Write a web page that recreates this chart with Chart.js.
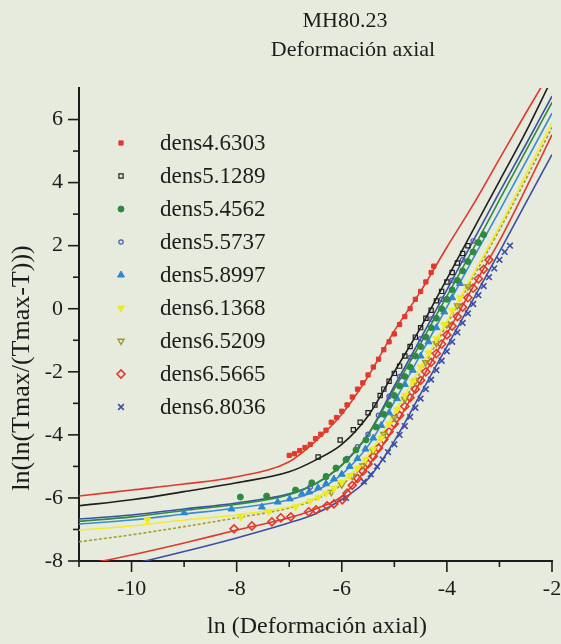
<!DOCTYPE html>
<html>
<head>
<meta charset="utf-8">
<script src="https://cdn.jsdelivr.net/npm/chart.js@4/dist/chart.umd.min.js"></script>
<style>
  html, body { margin: 0; padding: 0; background: #e7ebdd; }
  canvas { display: block; }
</style>
</head>
<body>
<canvas id="chart" width="561" height="644"></canvas>
<script>
// series names (legend order)
const seriesNames = ['dens4.6303', 'dens5.1289', 'dens5.4562', 'dens5.5737', 'dens5.8997', 'dens6.1368', 'dens6.5209', 'dens6.5665', 'dens6.8036'];
const xTickLabels = [-10, -8, -6, -4, -2];
const yTickLabels = [6, 4, 2, 0, -2, -4, -6, -8];

// fitted curves, read at these x positions
const fitX = [-11, -10, -9, -8, -7, -6.5, -6, -5.5, -5, -4.5, -4, -3.5, -3, -2.5, -2];
const fit46303 = [-5.94, -5.75, -5.56, -5.33, -4.85, -4.2, -3.35, -2.15, -0.7, 0.55, 1.95, 3.3, 4.75, 6.2, 7.6];
const fit51289 = [-6.25, -6.06, -5.8, -5.52, -5.17, -4.8, -4.3, -3.4, -2.0, -0.6, 0.95, 2.5, 4.05, 5.6, 7.3];
const fit54562 = [-6.74, -6.6, -6.4, -6.2, -5.9, -5.55, -4.97, -4.0, -2.55, -1.1, 0.4, 1.9, 3.45, 5.0, 6.54];
const fit55737 = [-6.67, -6.54, -6.35, -6.16, -5.87, -5.55, -4.95, -3.98, -2.45, -0.95, 0.6, 2.15, 3.7, 5.2, 6.74];
const fit58997 = [-6.83, -6.7, -6.51, -6.32, -6.06, -5.78, -5.25, -4.35, -2.95, -1.45, 0.05, 1.6, 3.1, 4.65, 6.2];
const fit61368 = [-7.02, -6.89, -6.7, -6.54, -6.28, -6.0, -5.5, -4.65, -3.3, -1.85, -0.4, 1.1, 2.6, 4.25, 5.9];
const fit65209 = [-7.39, -7.17, -6.91, -6.63, -6.32, -6.05, -5.58, -4.8, -3.45, -2.0, -0.5, 1.0, 2.5, 4.1, 5.75];
const fit65665 = [-8.15, -7.81, -7.43, -7.02, -6.63, -6.35, -5.95, -5.0, -3.75, -2.3, -0.8, 0.7, 2.15, 3.8, 5.52];
const fit68036 = [-8.45, -8.1, -7.7, -7.27, -6.79, -6.5, -6.05, -5.4, -4.2, -2.7, -1.2, 0.3, 1.8, 3.35, 4.89];

// measured points
const pts46303x = [-7.0, -6.9, -6.8, -6.7, -6.6, -6.5, -6.4, -6.3, -6.2, -6.1, -6.0, -5.9, -5.8, -5.7, -5.6, -5.5, -5.4, -5.3, -5.2, -5.1, -5.0, -4.9, -4.8, -4.7, -4.6, -4.5, -4.4, -4.3, -4.25];
const pts46303y = [-4.65, -4.6, -4.5, -4.4, -4.3, -4.12, -3.98, -3.85, -3.6, -3.45, -3.25, -3.05, -2.8, -2.55, -2.35, -2.1, -1.85, -1.6, -1.3, -1.05, -0.8, -0.5, -0.25, 0.0, 0.3, 0.55, 0.85, 1.15, 1.35];
const pts51289x = [-6.45, -6.03, -5.78, -5.65, -5.5, -5.37, -5.27, -5.2, -5.1, -5.0, -4.9, -4.8, -4.7, -4.6, -4.5, -4.4, -4.3, -4.2, -4.1, -4.0, -3.9, -3.8, -3.7, -3.6];
const pts51289y = [-4.7, -4.16, -3.84, -3.6, -3.3, -3.05, -2.75, -2.55, -2.3, -2.05, -1.82, -1.5, -1.2, -0.9, -0.6, -0.3, -0.05, 0.25, 0.55, 0.85, 1.15, 1.45, 1.75, 2.0];
const pts54562x = [-7.93, -7.43, -6.88, -6.57, -6.3, -6.11, -5.92, -5.73, -5.54, -5.35, -5.2, -5.1, -5.0, -4.9, -4.8, -4.7, -4.6, -4.5, -4.4, -4.3, -4.2, -4.1, -4.0, -3.9, -3.8, -3.7, -3.6, -3.5, -3.4, -3.3];
const pts54562y = [-5.97, -5.94, -5.75, -5.52, -5.33, -5.05, -4.79, -4.48, -4.16, -3.75, -3.35, -3.05, -2.75, -2.45, -2.15, -1.85, -1.5, -1.2, -0.9, -0.6, -0.3, 0.0, 0.3, 0.6, 0.9, 1.2, 1.5, 1.8, 2.1, 2.35];
const pts55737x = [-6.6, -6.3, -6.1, -5.9, -5.7, -5.5, -5.3, -5.1, -4.9, -4.7, -4.5, -4.3, -4.1, -3.9, -3.7, -3.5];
const pts55737y = [-5.65, -5.3, -5.07, -4.75, -4.38, -3.98, -3.38, -2.78, -2.15, -1.55, -0.95, -0.33, 0.3, 0.9, 1.55, 2.15];
const pts58997x = [-9.0, -8.1, -7.52, -7.22, -6.99, -6.76, -6.62, -6.45, -6.3, -6.15, -6.0, -5.85, -5.7, -5.55, -5.4, -5.25, -5.1, -4.95, -4.8, -4.65, -4.5, -4.35, -4.2, -4.05, -3.9, -3.75];
const pts58997y = [-6.47, -6.35, -6.29, -6.13, -6.03, -5.87, -5.81, -5.68, -5.55, -5.4, -5.25, -5.0, -4.75, -4.45, -4.1, -3.7, -3.3, -2.85, -2.4, -1.95, -1.5, -1.05, -0.6, -0.1, 0.35, 0.8];
const pts61368x = [-9.7, -7.92, -7.39, -6.88, -6.6, -6.45, -6.3, -6.15, -6.0, -5.85, -5.7, -5.55, -5.4, -5.25, -5.1, -4.95, -4.8, -4.65, -4.5, -4.35, -4.2, -4.05, -3.9, -3.75];
const pts61368y = [-6.7, -6.6, -6.44, -6.29, -6.1, -5.98, -5.85, -5.7, -5.5, -5.3, -5.05, -4.78, -4.45, -4.1, -3.65, -3.2, -2.75, -2.3, -1.85, -1.4, -0.95, -0.5, -0.05, 0.35];
const pts65209x = [-6.2, -6.0, -5.8, -5.6, -5.4, -5.2, -5.0, -4.8, -4.6, -4.4, -4.2, -4.0, -3.8, -3.6];
const pts65209y = [-5.82, -5.58, -5.3, -4.98, -4.5, -3.98, -3.45, -2.87, -2.3, -1.7, -1.1, -0.5, 0.1, 0.7];
const pts65665x = [-8.05, -7.71, -7.33, -7.16, -6.97, -6.63, -6.49, -6.28, -6.15, -5.99, -5.9, -5.8, -5.7, -5.6, -5.5, -5.4, -5.3, -5.2, -5.1, -5.0, -4.9, -4.8, -4.7, -4.6, -4.5, -4.4, -4.3, -4.2, -4.1, -4.0, -3.9, -3.8, -3.7, -3.6, -3.5, -3.4, -3.3, -3.2];
const pts65665y = [-6.98, -6.89, -6.76, -6.63, -6.6, -6.44, -6.38, -6.25, -6.19, -6.06, -5.85, -5.6, -5.38, -5.15, -4.92, -4.68, -4.42, -4.15, -3.9, -3.65, -3.38, -3.1, -2.82, -2.55, -2.27, -2.0, -1.7, -1.42, -1.12, -0.83, -0.55, -0.25, 0.05, 0.35, 0.65, 0.95, 1.25, 1.55];
const pts68036x = [-5.92, -5.58, -5.45, -5.33, -5.22, -5.12, -5.0, -4.9, -4.8, -4.7, -4.6, -4.5, -4.4, -4.3, -4.2, -4.1, -4.0, -3.9, -3.8, -3.7, -3.6, -3.5, -3.4, -3.3, -3.2, -3.1, -3.0, -2.9, -2.8];
const pts68036y = [-6.0, -5.48, -5.25, -5.0, -4.78, -4.55, -4.3, -4.0, -3.72, -3.43, -3.14, -2.85, -2.55, -2.25, -1.95, -1.65, -1.35, -1.05, -0.75, -0.45, -0.15, 0.15, 0.43, 0.72, 1.0, 1.28, 1.55, 1.8, 2.0];

const SERIF = '"Liberation Serif", "Times New Roman", serif';
const INK = '#1c1c1c';

const fits = [fit46303, fit51289, fit54562, fit55737, fit58997, fit61368, fit65209, fit65665, fit68036];
const ptsX = [pts46303x, pts51289x, pts54562x, pts55737x, pts58997x, pts61368x, pts65209x, pts65665x, pts68036x];
const ptsY = [pts46303y, pts51289y, pts54562y, pts55737y, pts58997y, pts61368y, pts65209y, pts65665y, pts68036y];

const lineColors = ['#e0392c', '#1e1e1e', '#2e8b3e', '#3b4fa6', '#3a8bd0', '#f0ec2a', '#a3a028', '#e0392c', '#3c4ca8'];
const markers = [
  { pointStyle: 'rect', radius: 3, rotation: 0, fill: '#e0392c', stroke: '#e0392c', bw: 1 },
  { pointStyle: 'rect', radius: 3, rotation: 0, fill: 'rgba(0,0,0,0)', stroke: '#1e1e1e', bw: 1.2 },
  { pointStyle: 'circle', radius: 3, rotation: 0, fill: '#2e8b3e', stroke: '#2e8b3e', bw: 1 },
  { pointStyle: 'circle', radius: 2.2, rotation: 0, fill: 'rgba(0,0,0,0)', stroke: '#4a5ab0', bw: 1.2 },
  { pointStyle: 'triangle', radius: 4, rotation: 0, fill: '#2f86cc', stroke: '#2f86cc', bw: 1 },
  { pointStyle: 'triangle', radius: 4, rotation: 180, fill: '#eeea22', stroke: '#eeea22', bw: 1 },
  { pointStyle: 'triangle', radius: 3.5, rotation: 180, fill: 'rgba(0,0,0,0)', stroke: '#9c9a22', bw: 1.4 },
  { pointStyle: 'rectRot', radius: 4, rotation: 0, fill: 'rgba(0,0,0,0)', stroke: '#e0392c', bw: 1.6 },
  { pointStyle: 'crossRot', radius: 4, rotation: 0, fill: '#3c4ca8', stroke: '#3c4ca8', bw: 1.6 }
];

const datasets = [];
seriesNames.forEach((name, i) => {
  datasets.push({
    type: 'line',
    label: name + ' fit',
    data: fitX.map((x, k) => ({ x: x, y: fits[i][k] })),
    borderColor: lineColors[i],
    borderWidth: 1.6,
    borderDash: i === 6 ? [3, 2] : [],
    pointRadius: 0,
    cubicInterpolationMode: 'monotone',
    fill: false,
    order: 2
  });
  const m = markers[i];
  datasets.push({
    type: 'scatter',
    label: name,
    data: ptsX[i].map((x, k) => ({ x: x, y: ptsY[i][k] })),
    showLine: false,
    pointStyle: m.pointStyle,
    pointRadius: m.radius,
    pointRotation: m.rotation,
    pointBackgroundColor: m.fill,
    pointBorderColor: m.stroke,
    pointBorderWidth: m.bw,
    order: 1
  });
});

const decor = {
  id: 'decor',
  afterDraw(chart) {
    const ctx = chart.ctx;
    const xs = chart.scales.x, ys = chart.scales.y;
    const area = chart.chartArea;
    ctx.save();
    ctx.strokeStyle = INK;
    ctx.lineWidth = 1.6;
    // ticks, long on even values, short on odd
    for (let v = -11; v <= -2; v++) {
      const p = xs.getPixelForValue(v);
      const len = v % 2 === 0 ? 11 : 6;
      ctx.beginPath(); ctx.moveTo(p, area.bottom); ctx.lineTo(p, area.bottom + len); ctx.stroke();
    }
    for (let v = -8; v <= 6; v++) {
      const p = ys.getPixelForValue(v);
      const len = v % 2 === 0 ? 11 : 6;
      ctx.beginPath(); ctx.moveTo(area.left, p); ctx.lineTo(area.left - len, p); ctx.stroke();
    }
    // titles
    ctx.fillStyle = INK;
    ctx.textAlign = 'center';
    ctx.textBaseline = 'middle';
    ctx.font = '22px ' + SERIF;
    ctx.fillText('MH80.23', 345, 21);
    ctx.fillText('Deformación axial', 353, 50);
    ctx.font = '24px ' + SERIF;
    ctx.fillText('ln (Deformación axial)', 317, 627);
    ctx.save();
    ctx.translate(22, 368);
    ctx.rotate(-Math.PI / 2);
    ctx.font = '26px ' + SERIF;
    ctx.fillText('ln(ln(Tmax/(Tmax-T)))', 0, 0);
    ctx.restore();
    // legend
    seriesNames.forEach((name, i) => {
      const y = 143 + 33 * i;
      const m = markers[i];
      ctx.fillStyle = m.fill;
      ctx.strokeStyle = m.stroke;
      ctx.lineWidth = m.bw;
      Chart.helpers.drawPoint(ctx, { pointStyle: m.pointStyle, radius: m.radius, rotation: m.rotation, borderWidth: m.bw }, 121, y);
      ctx.fillStyle = INK;
      ctx.textAlign = 'left';
      ctx.font = '23px ' + SERIF;
      ctx.fillText(name, 160, y + 1);
    });
    ctx.restore();
  }
};

new Chart(document.getElementById('chart'), {
  data: { datasets: datasets },
  options: {
    responsive: false,
    animation: false,
    layout: { padding: { top: 88, right: 9, left: 0, bottom: 0 } },
    plugins: { legend: { display: false }, title: { display: false }, tooltip: { enabled: false } },
    scales: {
      x: {
        type: 'linear', min: -11, max: -2,
        grid: { display: false, drawTicks: false },
        border: { display: true, color: INK, width: 2 },
        ticks: {
          stepSize: 1, autoSkip: false, maxRotation: 0, padding: 15,
          color: INK, font: { family: SERIF, size: 22 },
          callback: v => xTickLabels.includes(v) ? String(v) : ''
        },
        afterFit: s => { s.height = 83; s.paddingLeft = 0; s.paddingRight = 0; }
      },
      y: {
        type: 'linear', min: -8, max: 7,
        grid: { display: false, drawTicks: false },
        border: { display: true, color: INK, width: 2 },
        ticks: {
          stepSize: 1, autoSkip: false, padding: 16,
          color: INK, font: { family: SERIF, size: 22 },
          callback: v => yTickLabels.includes(v) ? String(v) : ''
        },
        afterFit: s => { s.width = 79; s.paddingTop = 0; s.paddingBottom = 0; }
      }
    }
  },
  plugins: [decor]
});
</script>
</body>
</html>
